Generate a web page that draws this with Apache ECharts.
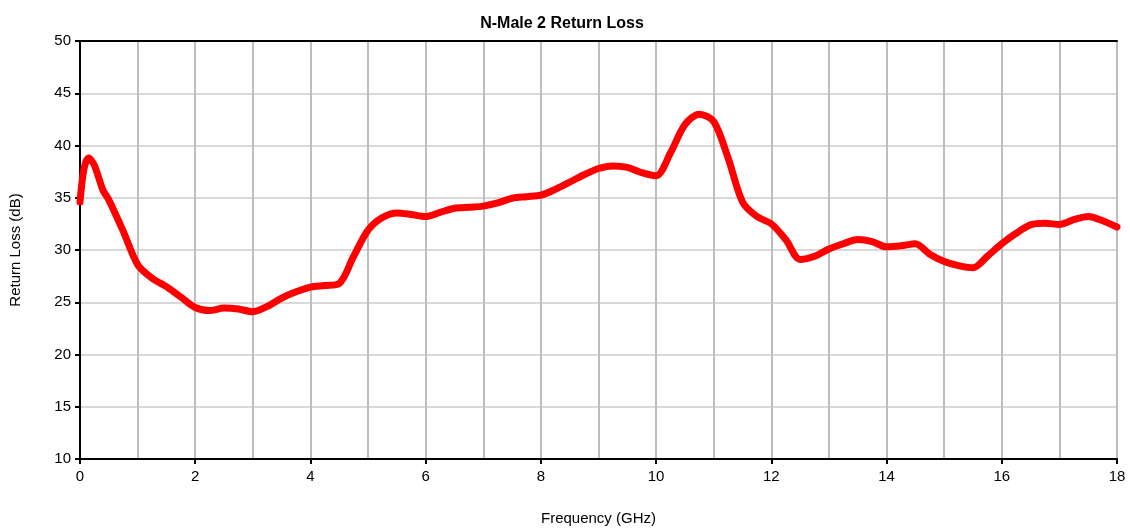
<!DOCTYPE html>
<html>
<head>
<meta charset="utf-8">
<title>N-Male 2 Return Loss</title>
<script src="https://cdn.jsdelivr.net/npm/echarts@6/dist/echarts.min.js"></script>
<style>
  html, body { margin: 0; padding: 0; background: #fff; }
  #chart { width: 1130px; height: 529px; }
</style>
</head>
<body>
<div id="chart"></div>
<script>
// frequency (GHz) and return loss (dB)
var freqs = [0, 0.07, 0.15, 0.25, 0.4, 0.5, 0.75, 1, 1.25, 1.5, 1.75, 2, 2.25, 2.5, 2.75, 3, 3.25, 3.5, 3.75, 4, 4.25, 4.5, 4.75, 5, 5.25, 5.5, 5.75, 6, 6.25, 6.5, 6.75, 7, 7.25, 7.5, 7.75, 8, 8.25, 8.5, 8.75, 9, 9.25, 9.5, 9.75, 10, 10.25, 10.5, 10.75, 11, 11.25, 11.5, 11.75, 12, 12.25, 12.5, 12.75, 13, 13.25, 13.5, 13.75, 14, 14.25, 14.5, 14.75, 15, 15.25, 15.5, 15.75, 16, 16.25, 16.5, 16.75, 17, 17.25, 17.5, 17.75, 18];
var returnLoss = [34.6, 37.8, 38.8, 38.1, 35.7, 34.8, 31.8, 28.6, 27.3, 26.5, 25.5, 24.5, 24.2, 24.45, 24.35, 24.1, 24.6, 25.4, 26.0, 26.45, 26.6, 26.8, 29.4, 31.9, 33.1, 33.55, 33.4, 33.2, 33.6, 34.0, 34.1, 34.2, 34.5, 34.95, 35.1, 35.25, 35.8, 36.5, 37.2, 37.8, 38.05, 37.9, 37.4, 37.1, 39.3, 42.0, 43.0, 42.3, 38.8, 34.6, 33.2, 32.5, 31.0, 29.1, 29.4, 30.1, 30.6, 31.0, 30.8, 30.3, 30.4, 30.6, 29.6, 28.9, 28.5, 28.3, 29.4, 30.6, 31.6, 32.4, 32.55, 32.45, 32.9, 33.2, 32.8, 32.2];

var points = freqs.map(function (f, i) { return [f, returnLoss[i]] });

var myChart = echarts.init(document.getElementById('chart'));
var font = 'Liberation Sans, Arial, sans-serif';

// plain black frame line for the top / right edges
var frameAxis = {
  axisLine: { show: true, lineStyle: { color: '#000', width: 2 } },
  axisTick: { show: false },
  axisLabel: { show: false },
  splitLine: { show: false }
};

myChart.setOption({
  animation: false,
  backgroundColor: '#fff',
  title: {
    text: 'N-Male 2 Return Loss',
    left: 557,
    top: 11,
    textAlign: 'center',
    textStyle: { fontFamily: font, fontSize: 16, fontWeight: 'bold', color: '#000' }
  },
  grid: {
    left: 80, right: 13, top: 41, bottom: 70,
    outerBoundsMode: 'none',
    containLabel: false
  },
  xAxis: [
    {
      type: 'value',
      min: 0, max: 18, interval: 2,
      name: 'Frequency (GHz)',
      nameLocation: 'middle',
      nameGap: 52,
      nameTextStyle: { fontFamily: font, fontSize: 15, color: '#000' },
      axisLine: { show: true, lineStyle: { color: '#000', width: 2 } },
      axisTick: { show: true, inside: false, length: 5, lineStyle: { color: '#000', width: 2 } },
      axisLabel: { fontFamily: font, fontSize: 15, color: '#000', margin: 10 },
      splitLine: { show: true, lineStyle: { color: '#bdbdbd', width: 2 } },
      minorTick: { show: false, splitNumber: 2 },
      minorSplitLine: { show: true, lineStyle: { color: '#bdbdbd', width: 2 } }
    },
    Object.assign({ type: 'value', min: 0, max: 18, position: 'top' }, frameAxis)
  ],
  yAxis: [
    {
      type: 'value',
      min: 10, max: 50, interval: 5,
      name: 'Return Loss (dB)',
      nameLocation: 'middle',
      nameGap: 57,
      nameRotate: 90,
      nameTextStyle: { fontFamily: font, fontSize: 15, color: '#000' },
      axisLine: { show: true, lineStyle: { color: '#000', width: 2 } },
      axisTick: { show: true, inside: false, length: 5, lineStyle: { color: '#000', width: 2 } },
      axisLabel: { fontFamily: font, fontSize: 15, color: '#000', margin: 9 },
      splitLine: { show: true, lineStyle: { color: '#d9d9d9', width: 2 } }
    },
    Object.assign({ type: 'value', min: 10, max: 50, position: 'right' }, frameAxis)
  ],
  series: [
    {
      type: 'line',
      data: points,
      smooth: 0.3,
      showSymbol: false,
      clip: true,
      lineStyle: { color: '#ff0000', width: 7, cap: 'round', join: 'round' },
      z: 3
    }
  ]
});
</script>
</body>
</html>
